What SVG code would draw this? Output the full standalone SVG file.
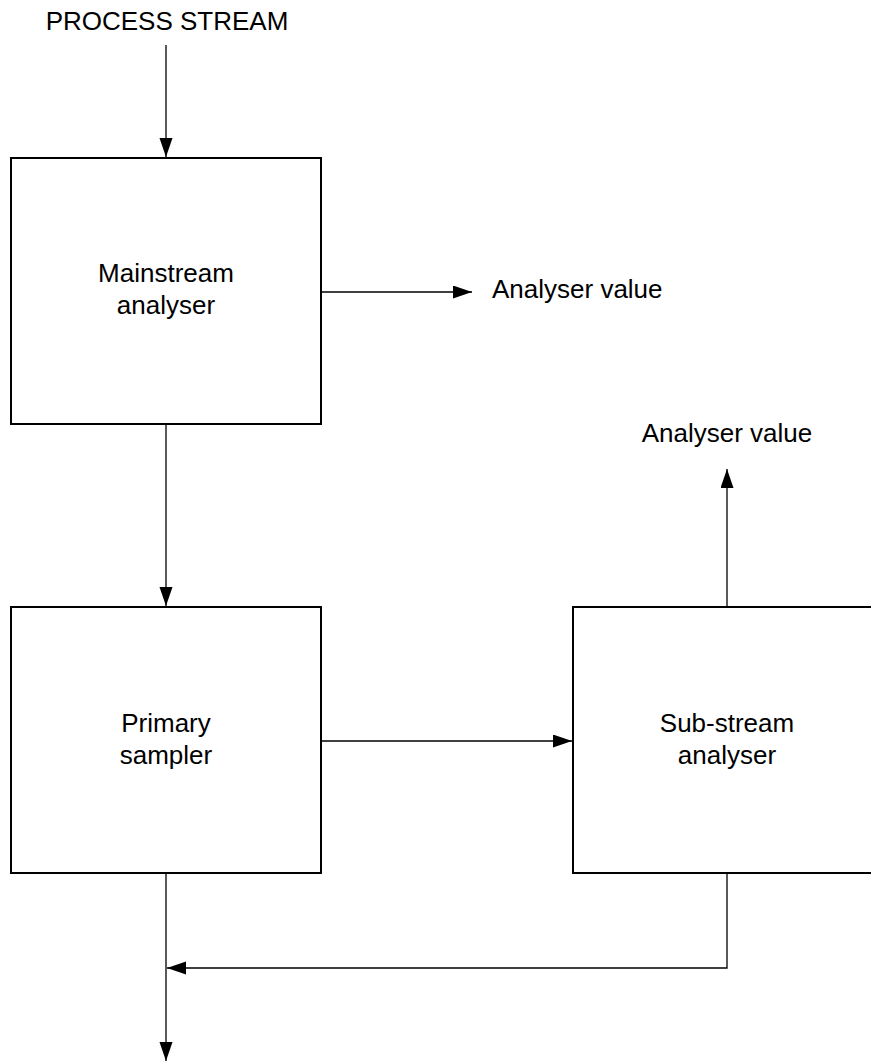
<svg xmlns="http://www.w3.org/2000/svg" width="871" height="1061" viewBox="0 0 871 1061">
  <style>
    .box { fill: #ffffff; stroke: #000000; stroke-width: 2; }
    .wire { fill: none; stroke: #000000; stroke-width: 1.3; }
    .lbl { font-family: "Liberation Sans", Arial, sans-serif; font-size: 26px; fill: #000000; }
    .mid { text-anchor: middle; }
  </style>
  <defs>
    <marker id="arrow" markerUnits="userSpaceOnUse" markerWidth="22" markerHeight="14" refX="19" refY="6.5" orient="auto">
      <path d="M0,0 L19,6.5 L0,13 Z" fill="#000000"/>
    </marker>
  </defs>

  <rect width="871" height="1061" fill="#ffffff"/>

  <text class="lbl mid" x="167" y="30">PROCESS STREAM</text>

  <g id="connectors">
    <line class="wire" x1="166" y1="45" x2="166" y2="157" marker-end="url(#arrow)"/>
    <line class="wire" x1="321" y1="292" x2="472" y2="292" marker-end="url(#arrow)"/>
    <line class="wire" x1="166" y1="424" x2="166" y2="606" marker-end="url(#arrow)"/>
    <line class="wire" x1="321" y1="741" x2="572" y2="741" marker-end="url(#arrow)"/>
    <line class="wire" x1="727" y1="607" x2="727" y2="469" marker-end="url(#arrow)"/>
    <polyline class="wire" points="727,873 727,968 167,968" marker-end="url(#arrow)"/>
    <line class="wire" x1="166" y1="873" x2="166" y2="1061" marker-end="url(#arrow)"/>
  </g>

  <text class="lbl" x="492" y="298">Analyser value</text>
  <text class="lbl mid" x="727" y="442">Analyser value</text>

  <g id="mainstream-analyser">
    <rect class="box" x="11" y="158" width="310" height="266"/>
    <text class="lbl mid" x="166" y="282">Mainstream</text>
    <text class="lbl mid" x="166" y="314">analyser</text>
  </g>

  <g id="primary-sampler">
    <rect class="box" x="11" y="607" width="310" height="266"/>
    <text class="lbl mid" x="166" y="732">Primary</text>
    <text class="lbl mid" x="166" y="764">sampler</text>
  </g>

  <g id="sub-stream-analyser">
    <rect class="box" x="573" y="607" width="310" height="266"/>
    <text class="lbl mid" x="727" y="732">Sub-stream</text>
    <text class="lbl mid" x="727" y="764">analyser</text>
  </g>
</svg>
